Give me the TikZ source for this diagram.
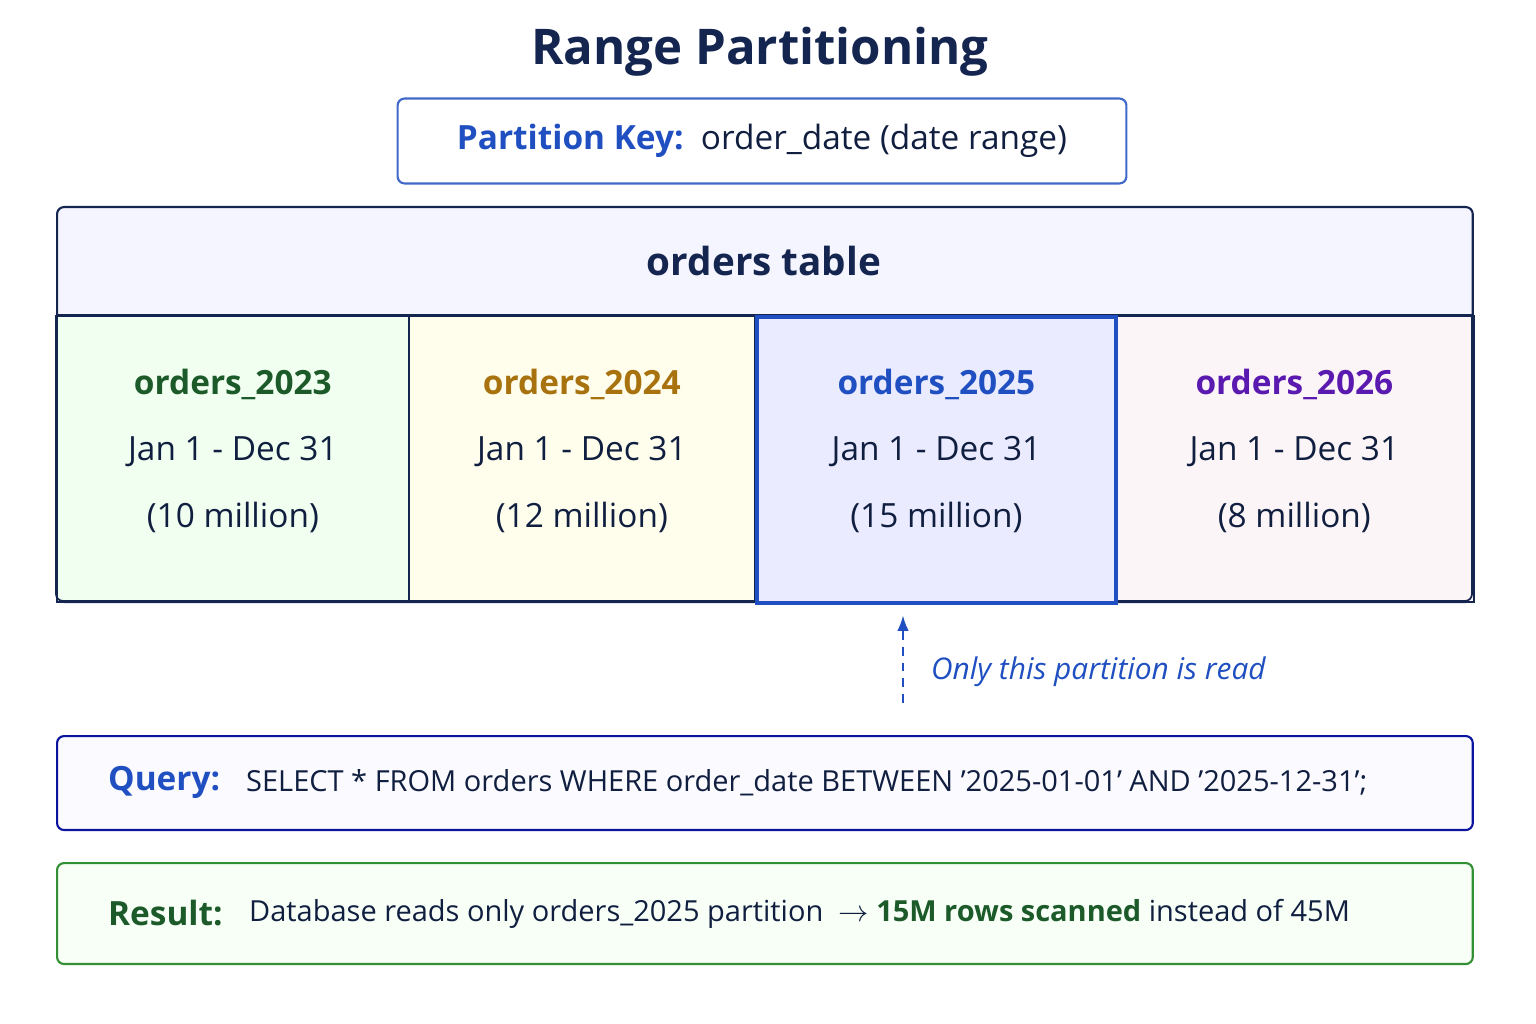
\documentclass[tikz,border=0pt]{standalone}
\usepackage{fontspec}
\setmainfont{Open Sans}
\usetikzlibrary{positioning,arrows.meta}
\definecolor{navy}{HTML}{14254F}
\definecolor{keyblue}{HTML}{1F4FC0}
\definecolor{dkgreen}{HTML}{1C5A2A}
\definecolor{gold}{HTML}{A8720E}
\definecolor{purp}{HTML}{5A1AB0}
\tikzset{
box/.style = {draw, rounded corners=4pt, line width=1.2pt, inner sep=0pt},
cell/.style = {draw=navy, line width=1pt, minimum width=#1, minimum height=5.72cm, inner sep=0pt},
celltext/.style = {align=center, font=\fontsize{19}{38}\selectfont, text=navy!80!black},
}
\begin{document}
\begin{tikzpicture}[x=0.02cm, y=-0.02cm, >=Latex]
\useasboundingbox (0,0) rectangle (1536,1024);
% title and key
\node[font=\fontsize{28}{32}\selectfont\bfseries, text=navy] (title) at (760,52) {Range Partitioning};
\node[box, draw=keyblue!85, fill=white, minimum width=14.58cm, minimum height=1.7cm] (key) at (762,141) {};
\node[font=\fontsize{19}{22}\selectfont] (keytext) at (key) {\textcolor{keyblue}{\bfseries Partition Key:}\ \ \textcolor{navy!80!black}{order\_date (date range)}};
% table
\node[box, draw=navy, fill=blue!4, minimum width=28.32cm, minimum height=7.9cm, anchor=north west] (table) at (56,206) {};
\node[font=\fontsize{22}{26}\selectfont\bfseries, text=navy] (head) at (764,261) {orders table};
\node[cell=7.04cm, fill=green!6, anchor=north west] (p23) at (56,315) {};
\node[cell=6.92cm, fill=yellow!7, anchor=north west] (p24) at (408,315) {};
\node[cell=7.18cm, fill=purple!4, anchor=north west] (p26) at (1114,315) {};
\draw[navy, line width=1pt, rounded corners=4pt] (56,315) -- (56,601) -- (1472,601) -- (1472,315);
\draw[navy, line width=1pt] (56,315) -- (1472,315);
\node[cell=7.18cm, draw=keyblue, line width=2.2pt, fill=blue!8, anchor=north west] (p25) at (755,315) {};
\foreach \n/\c/\r in {23/dkgreen/10, 24/gold/12, 25/keyblue/15, 26/purp/8}
  \node[celltext, below=0.95cm of p\n.north] (t\n) {\textcolor{\c}{\bfseries orders\_20\n}\\Jan 1 - Dec 31\\(\r\ million)};
% arrow
\coordinate (afoot) at (903,703);
\draw[->, keyblue, line width=1.3pt, dash pattern=on 5pt off 4pt] (afoot) -- ([yshift=-6pt]p25.south -| afoot);
\node[font=\fontsize{17}{20}\selectfont\itshape, text=keyblue, anchor=west] (note) at (925,672) {Only this partition is read};
% query
\node[box, draw=blue!45!navy, fill=blue!2, minimum width=28.32cm, minimum height=1.88cm, anchor=north west] (query) at (56,735) {};
\node[font=\fontsize{19}{22}\selectfont\bfseries, text=keyblue, anchor=west] (qlab) at (102,782) {Query:};
\node[font=\fontsize{16.5}{20}\selectfont, text=navy!80!black, anchor=west] (qtext) at (240,783) {SELECT * FROM orders WHERE order\_date BETWEEN '2025-01-01' AND '2025-12-31';};
% result
\node[box, draw=green!45!black!80, fill=green!3, minimum width=28.32cm, minimum height=2.02cm, anchor=north west] (result) at (56,862) {};
\node[font=\fontsize{19}{22}\selectfont\bfseries, text=dkgreen, anchor=west] (rlab) at (102,913) {Result:};
\node[font=\fontsize{16.5}{20}\selectfont, text=navy!80!black, anchor=west] (rtext) at (243,914) {Database reads only orders\_2025 partition \ $\rightarrow$ \textcolor{dkgreen}{\bfseries 15M rows scanned} instead of 45M};
\end{tikzpicture}
\end{document}
